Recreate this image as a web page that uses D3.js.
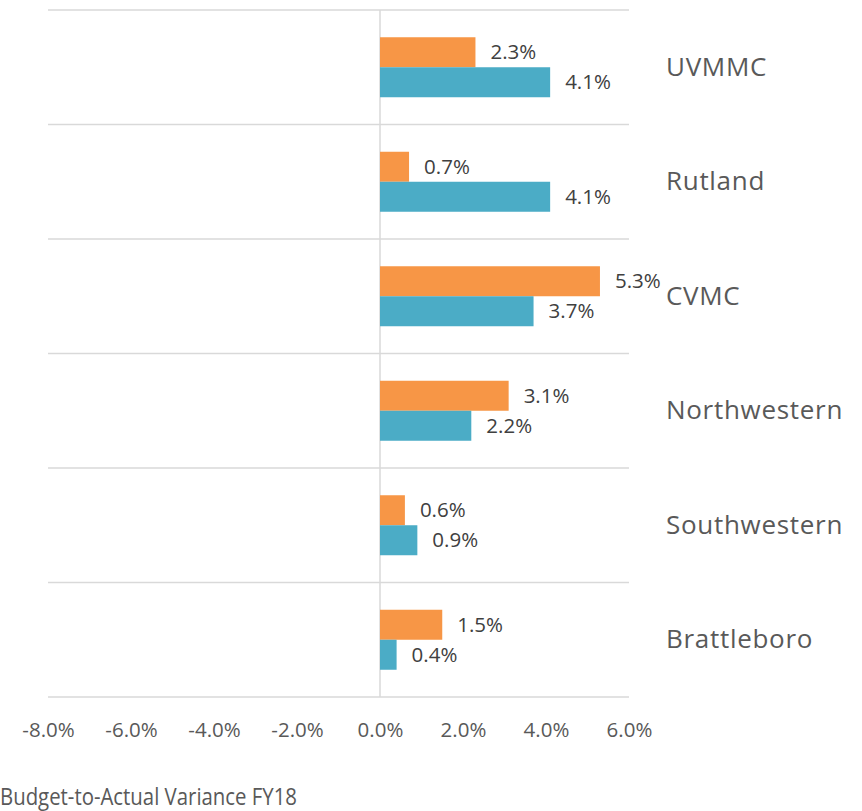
<!DOCTYPE html>
<html>
<head>
<meta charset="utf-8">
<script src="https://cdn.jsdelivr.net/npm/d3@7"></script>
<style>
  html, body { margin: 0; padding: 0; background: #fff; }
  svg { display: block; }
</style>
</head>
<body>
<svg id="chart" width="862" height="811"></svg>
<script>
const categories = ["UVMMC", "Rutland", "CVMC", "Northwestern", "Southwestern", "Brattleboro"];
const seriesNames = ["Budget", "Actual"];
const budgetValues = [2.3, 0.7, 5.3, 3.1, 0.6, 1.5];
const actualValues = [4.1, 4.1, 3.7, 2.2, 0.9, 0.4];
const tickValues = [-8, -6, -4, -2, 0, 2, 4, 6];
const chartTitle = "Budget-to-Actual Variance FY18";

(function () {
const colors = { Budget: "#F79646", Actual: "#4BACC6" };
const fontMain = "'Open Sans', 'Noto Sans', sans-serif";

const svg = d3.select("#chart");

const x = d3.scaleLinear().domain([-8, 6]).range([48, 629]);
const plotTop = 10, plotBottom = 697;
const pIn = (114.5 - 60) / 114.5;
const y = d3.scaleBand().domain(categories).range([plotTop, plotBottom])
  .paddingInner(pIn).paddingOuter(pIn / 2);
const ySub = d3.scaleBand().domain(seriesNames).range([0, y.bandwidth()]);

const rows = categories.map((c, i) => ({
  cat: c,
  values: [
    { s: "Budget", v: budgetValues[i] },
    { s: "Actual", v: actualValues[i] }
  ]
}));

const step = y.step();
const bounds = d3.range(categories.length + 1).map(i => plotTop + i * step);
svg.append("g").selectAll("line").data(bounds).join("line")
  .attr("x1", x(-8)).attr("x2", x(6))
  .attr("y1", d => d).attr("y2", d => d)
  .attr("stroke", "#D9D9D9").attr("stroke-width", 1.5);

svg.append("line")
  .attr("x1", x(0)).attr("x2", x(0))
  .attr("y1", plotTop).attr("y2", plotBottom)
  .attr("stroke", "#D9D9D9").attr("stroke-width", 1.5);

const g = svg.append("g").selectAll("g").data(rows).join("g")
  .attr("transform", d => `translate(0,${y(d.cat)})`);

g.selectAll("rect").data(d => d.values).join("rect")
  .attr("x", d => x(Math.min(0, d.v)))
  .attr("width", d => Math.abs(x(d.v) - x(0)))
  .attr("y", d => ySub(d.s))
  .attr("height", ySub.bandwidth())
  .attr("fill", d => colors[d.s]);

g.selectAll("text").data(d => d.values).join("text")
  .attr("x", d => x(d.v) + 15)
  .attr("y", d => ySub(d.s) + ySub.bandwidth() / 2)
  .attr("dy", "0.35em")
  .attr("font-family", fontMain)
  .attr("font-size", 20.5)
  .attr("fill", "#404040")
  .text(d => d.v.toFixed(1) + "%");

svg.append("g").selectAll("text").data(categories).join("text")
  .attr("x", 666)
  .attr("y", d => y(d) + y.bandwidth() / 2)
  .attr("dy", "0.33em")
  .attr("font-family", fontMain)
  .attr("font-size", 26)
  .attr("letter-spacing", 0.7)
  .attr("fill", "#595959")
  .text(d => d);

const xAxis = d3.axisBottom(x).tickValues(tickValues)
  .tickFormat(d => d.toFixed(1) + "%").tickSize(0).tickPadding(0);
const ax = svg.append("g").attr("transform", `translate(0,${plotBottom + 25})`).call(xAxis);
ax.select(".domain").remove();
ax.selectAll("text")
  .attr("font-family", fontMain)
  .attr("font-size", 20.5)
  .attr("fill", "#595959");

svg.append("text")
  .attr("x", 0)
  .attr("y", 805)
  .attr("font-family", fontMain)
  .attr("font-size", 23)
  .attr("textLength", 297)
  .attr("lengthAdjust", "spacingAndGlyphs")
  .attr("fill", "#595959")
  .text(chartTitle);
})();
</script>
</body>
</html>
